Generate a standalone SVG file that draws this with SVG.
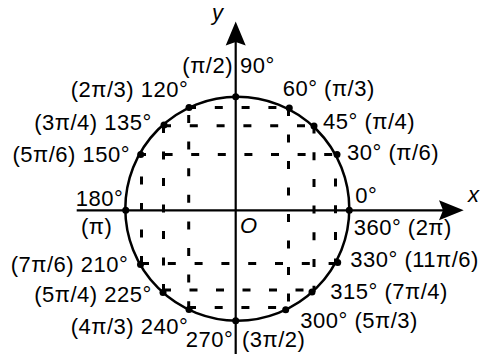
<svg xmlns="http://www.w3.org/2000/svg" width="484" height="354" viewBox="0 0 484 354">
<style>
.ax{stroke:#000;stroke-width:2.2;fill:none}
.ah{fill:#000;stroke:none}
.c{fill:none;stroke:#000;stroke-width:2.5}
.d{stroke:#000;stroke-width:3;fill:none}
.p{fill:#000}
text{font-family:"Liberation Sans",Arial,sans-serif;font-size:22px;letter-spacing:0.5px;fill:#000}
.i{font-style:italic;letter-spacing:0}
.e{text-anchor:end}
</style>
<rect width="484" height="354" fill="#fff"/>
<g id="circle">
<circle class="c" cx="237.3" cy="208.7" r="112"/>
</g>
<g id="connectors">
<path class="d" d="M141.5 176.5V264.5" stroke-dasharray="8 18.5"/>
<path class="d" d="M163.5 125V292" stroke-dasharray="8 18.5"/>
<path class="d" d="M188.7 115V309.5" stroke-dasharray="8 18.6"/>
<path class="d" d="M288.5 108V309.5" stroke-dasharray="8 18.5"/>
<path class="d" d="M314 125.5V292" stroke-dasharray="8 18.7"/>
<path class="d" d="M335.5 178.5V262.5" stroke-dasharray="8 18.7"/>
<path class="d" d="M188 107.5H289" stroke-dasharray="8 18.8"/>
<path class="d" d="M163 125.8H314" stroke-dasharray="8 18.8"/>
<path class="d" d="M138 154.5H337" stroke-dasharray="8 18.6"/>
<path class="d" d="M141 263.5H337.5" stroke-dasharray="8 18.8"/>
<path class="d" d="M163 290H312" stroke-dasharray="8 18.5"/>
<path class="d" d="M188 307.5H286" stroke-dasharray="8 18.7"/>
</g>
<g id="axes">
<line class="ax" x1="235.7" y1="354" x2="235.7" y2="40"/>
<polygon class="ah" points="235.7,21.5 225.7,45.5 235.7,42 245.7,45.5"/>
<line class="ax" x1="76.7" y1="210.3" x2="445" y2="210.3"/>
<polygon class="ah" points="463.7,210.3 439,200.3 443,210.3 439,220.3"/>
<text class="i" x="212" y="20">y</text>
<text class="i" x="468" y="202">x</text>
<text class="i" x="240" y="233">O</text>
</g>
<g id="p90"><circle class="p" cx="235.7" cy="96.7" r="3.5"/><text y="73"><tspan class="e" x="233">(π/2)</tspan><tspan x="240">90°</tspan></text></g>
<g id="p120"><circle class="p" cx="189" cy="107.5" r="3.5"/><text class="e" x="188.3" y="97">(2π/3) 120°</text></g>
<g id="p135"><circle class="p" cx="164" cy="125" r="3.5"/><text class="e" x="151.7" y="130">(3π/4) 135°</text></g>
<g id="p150"><circle class="p" cx="140.7" cy="154.5" r="3.5"/><text class="e" x="130" y="161.5">(5π/6) 150°</text></g>
<g id="p180"><circle class="p" cx="125.7" cy="210.3" r="3.5"/><text class="e" x="123.3" y="206">180°</text><text x="81" y="234">(π)</text></g>
<g id="p210"><circle class="p" cx="140.5" cy="264.5" r="3.5"/><text class="e" x="128.3" y="272">(7π/6) 210°</text></g>
<g id="p225"><circle class="p" cx="163" cy="292.5" r="3.5"/><text class="e" x="151.7" y="302">(5π/4) 225°</text></g>
<g id="p240"><circle class="p" cx="189" cy="309.5" r="3.5"/><text class="e" x="188.3" y="334">(4π/3) 240°</text></g>
<g id="p270"><circle class="p" cx="235.7" cy="320.7" r="3.5"/><text y="347"><tspan class="e" x="233.3">270°</tspan><tspan x="242">(3π/2)</tspan></text></g>
<g id="p60"><circle class="p" cx="289.3" cy="108" r="3.5"/><text x="282.7" y="96">60° (π/3)</text></g>
<g id="p45"><circle class="p" cx="314" cy="126" r="3.5"/><text x="323" y="129">45° (π/4)</text></g>
<g id="p30"><circle class="p" cx="337" cy="154.5" r="3.5"/><text x="347" y="160">30° (π/6)</text></g>
<g id="p0"><circle class="p" cx="349.3" cy="210.3" r="3.5"/><text x="355.3" y="203">0°</text><text x="353.7" y="235">360° (2π)</text></g>
<g id="p330"><circle class="p" cx="337.7" cy="262.5" r="3.5"/><text x="350.3" y="267">330° (11π/6)</text></g>
<g id="p315"><circle class="p" cx="312" cy="292" r="3.5"/><text x="330.3" y="299">315° (7π/4)</text></g>
<g id="p300"><circle class="p" cx="285.7" cy="309.7" r="3.5"/><text x="300.3" y="328">300° (5π/3)</text></g>
</svg>
